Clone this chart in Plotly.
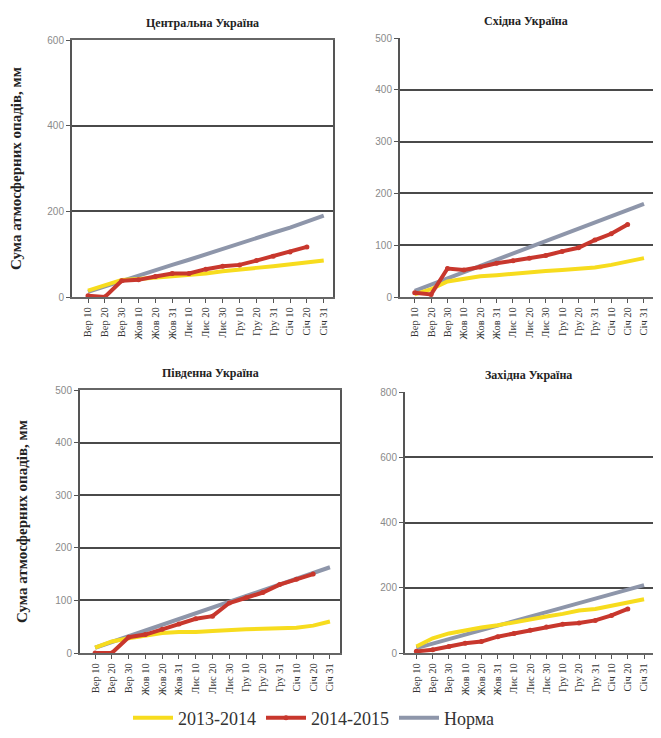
import plotly.graph_objects as go

categories = ["Вер 10", "Вер 20", "Вер 30", "Жов 10", "Жов 20", "Жов 31",
              "Лис 10", "Лис 20", "Лис 30", "Гру 10", "Гру 20", "Гру 31",
              "Січ 10", "Січ 20", "Січ 31"]

# Центральна Україна
central_2013 = [15, 28, 40, 42, 45, 48, 52, 55, 60, 65, 68, 72, 76, 80, 85]
central_2014 = [3, 0, 38, 40, 48, 55, 55, 65, 72, 75, 85, 95, 105, 117, None]
central_norm = [12, 25, 38, 50, 62, 75, 87, 100, 112, 125, 137, 150, 162, 175, 190]

# Східна Україна
east_2013 = [5, 15, 30, 35, 40, 42, 45, 47, 50, 52, 55, 57, 62, 68, 75]
east_2014 = [8, 5, 55, 52, 58, 65, 70, 75, 80, 88, 95, 110, 122, 140, None]
east_norm = [12, 24, 36, 48, 60, 72, 84, 96, 108, 120, 132, 144, 156, 168, 180]

# Південна Україна
south_2013 = [10, 22, 28, 33, 38, 40, 40, 42, 44, 45, 46, 47, 48, 52, 60]
south_2014 = [0, 0, 30, 35, 45, 55, 65, 70, 95, 105, 115, 130, 140, 150, None]
south_norm = [10, 21, 32, 43, 54, 65, 76, 87, 98, 109, 120, 131, 142, 153, 163]

# Західна Україна
west_2013 = [20, 45, 60, 70, 78, 85, 95, 105, 112, 120, 130, 135, 145, 155, 165]
west_2014 = [5, 10, 20, 30, 35, 50, 60, 70, 80, 88, 92, 100, 115, 135, None]
west_norm = [15, 29, 42, 56, 70, 84, 97, 111, 125, 139, 152, 166, 180, 194, 208]

panels = [
    ("Центральна Україна", central_2013, central_2014, central_norm, [0, 600], [0, 200, 400, 600]),
    ("Східна Україна", east_2013, east_2014, east_norm, [0, 500], [0, 100, 200, 300, 400, 500]),
    ("Південна Україна", south_2013, south_2014, south_norm, [0, 500], [0, 100, 200, 300, 400, 500]),
    ("Західна Україна", west_2013, west_2014, west_norm, [0, 800], [0, 200, 400, 600, 800]),
]

OFF = 8  # page body margin
W, H = 661 - 2 * OFF, 738 - 2 * OFF
# pixel boxes in screenshot coords: (left, right, top, bottom)
boxes = [(72, 333, 40, 297), (400, 653, 38, 297), (80, 340, 390, 653), (405, 653, 392, 653)]
xranges = [[-0.95, 14.55], [-0.9, 14.55], [-0.9, 14.6], [-0.7, 14.55]]

YELLOW = "#F7DC1E"
RED = "#C8372D"
GRAY = "#8E96AA"
SERIF = "Liberation Serif"


def fx(p):
    return (p - OFF) / W


def fy(p):
    return 1 - (p - OFF) / H


fig = go.Figure()
layout = {}
annotations = []
for i, (title, s13, s14, norm, yr, yt) in enumerate(panels):
    n = i + 1
    xa = "x" if n == 1 else f"x{n}"
    ya = "y" if n == 1 else f"y{n}"
    show = (i == 0)
    fig.add_trace(go.Scatter(x=categories, y=norm, name="Норма", mode="lines",
                             line=dict(color=GRAY, width=4), xaxis=xa, yaxis=ya,
                             showlegend=show, legendrank=3))
    fig.add_trace(go.Scatter(x=categories, y=s13, name="2013-2014", mode="lines",
                             line=dict(color=YELLOW, width=4), xaxis=xa, yaxis=ya,
                             showlegend=show, legendrank=1))
    fig.add_trace(go.Scatter(x=categories, y=s14, name="2014-2015", mode="lines+markers",
                             line=dict(color=RED, width=4), marker=dict(size=5, color=RED),
                             xaxis=xa, yaxis=ya, showlegend=show, legendrank=2))
    l, r, t, b = boxes[i]
    right_panel = i in (1, 3)
    layout["xaxis" if n == 1 else f"xaxis{n}"] = dict(
        domain=[fx(l), min(1.0, fx(r))], anchor=ya, type="category", range=xranges[i],
        tickangle=-90, tickfont=dict(family=SERIF, size=10.5, color="#333"),
        ticks="outside", ticklen=4, tickcolor="#555", showgrid=False, automargin=False,
        showline=True, linecolor="#666", linewidth=2, mirror=not right_panel, zeroline=False)
    layout["yaxis" if n == 1 else f"yaxis{n}"] = dict(
        domain=[fy(b), fy(t)], anchor=xa, range=yr, tickvals=yt,
        tickfont=dict(family="Liberation Sans", size=10, color="#8a8a8a"),
        ticks="outside", ticklen=4, tickcolor="#555", automargin=False,
        showgrid=True, gridcolor="#4a4a4a", gridwidth=2,
        showline=True, linecolor="#555", linewidth=2, mirror=not right_panel, zeroline=False,
        title=dict(text="<b>Сума атмосферних опадів, мм</b>" if i in (0, 2) else "",
                   font=dict(family=SERIF, size=15, color="#222"), standoff=24))
    cx = (l + r) / 2 if not right_panel else (l + 661) / 2 - 5
    annotations.append(dict(text=f"<b>{title}</b>", x=fx(cx), y=fy(t - 17),
                            xref="paper", yref="paper", showarrow=False,
                            xanchor="center", yanchor="middle",
                            font=dict(family=SERIF, size=12, color="#222")))

fig.update_layout(**layout)
fig.update_layout(
    width=W, height=H, margin=dict(l=0, r=0, t=0, b=0, autoexpand=False),
    paper_bgcolor="white", plot_bgcolor="white",
    annotations=annotations,
    legend=dict(orientation="h", x=fx(128), y=fy(718), yanchor="middle", xanchor="left",
                font=dict(family=SERIF, size=18, color="#333"),
                itemwidth=40, bgcolor="rgba(0,0,0,0)"),
)
fig.write_html("out.html")
